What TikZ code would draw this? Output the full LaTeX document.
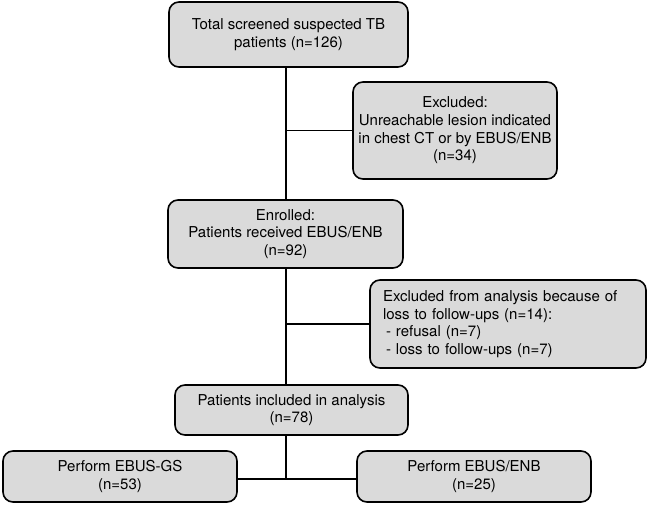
\documentclass[tikz,border=0pt]{standalone}
\usepackage{fontspec}
\setmainfont{TeX Gyre Heros}
\definecolor{boxfill}{HTML}{DADADA}
\begin{document}
\begin{tikzpicture}[x=1pt,y=-1pt,
  flowbox/.style={draw=black, line width=1.6pt, fill=boxfill, rounded corners=10pt,
    align=center, inner sep=0pt, font=\fontsize{15}{17.6}\selectfont},
  link/.style={line width=1.6pt}]
\useasboundingbox (0,0) rectangle (648,504);
\node[flowbox, minimum width=239pt, minimum height=65pt] (b1) at (288.5,34.5)
  {Total screened suspected TB\\patients (n=126)};
\node[flowbox, minimum width=204pt, minimum height=97pt] (b2) at (455,130.5)
  {Excluded:\\Unreachable lesion indicated\\in chest CT or by EBUS/ENB\\(n=34)};
\node[flowbox, minimum width=235pt, minimum height=68pt] (b3) at (285.5,234)
  {Enrolled:\\Patients received EBUS/ENB\\(n=92)};
\node[flowbox, align=left, text width=250pt, inner xsep=13pt, minimum height=88pt] (b4) at (508,324)
  {Excluded from analysis because of\\loss to follow-ups (n=14):\\\hspace*{3pt}- refusal (n=7)\\\hspace*{3pt}- loss to follow-ups (n=7)};
\node[flowbox, minimum width=233pt, minimum height=50pt] (b5) at (291.5,410)
  {Patients included in analysis\\(n=78)};
\node[flowbox, minimum width=234pt, minimum height=51pt] (b6) at (120,476.5)
  {Perform EBUS-GS\\(n=53)};
\node[flowbox, minimum width=234pt, minimum height=51pt] (b7) at (474,476.5)
  {Perform EBUS/ENB\\(n=25)};
\coordinate (sp) at (286,0);
\coordinate (split) at (286,479);
\draw[link] (b1.south -| sp) -- (b3.north -| sp);
\draw[link] (sp |- b2.west) -- (b2.west);
\draw[link] (b3.south -| sp) -- (b5.north -| sp);
\draw[link] (sp |- b4.west) -- (b4.west);
\draw[link] (b5.south -| sp) -- (split);
\draw[link] (b6.east |- split) -- (b7.west |- split);
\end{tikzpicture}
\end{document}
